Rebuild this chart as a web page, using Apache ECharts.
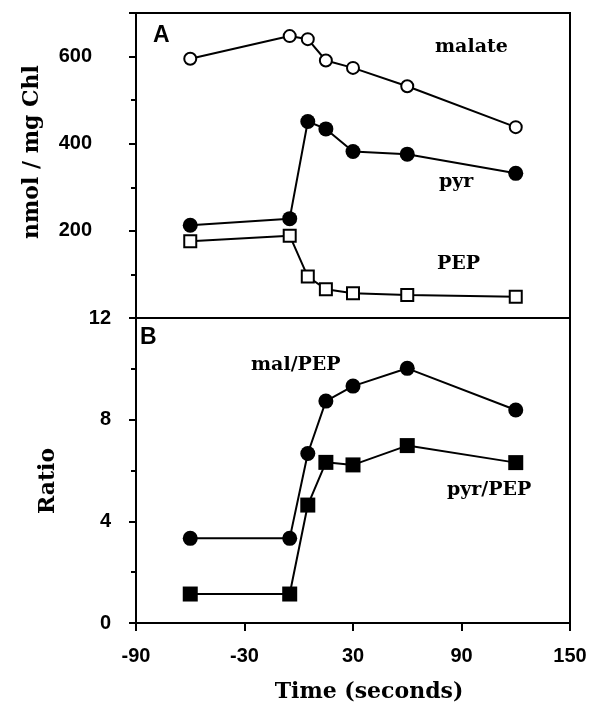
<!DOCTYPE html>
<html><head><meta charset="utf-8">
<script src="https://cdn.jsdelivr.net/npm/echarts@6/dist/echarts.min.js"></script>
<style>html,body{margin:0;padding:0;background:#fff}#c{width:591px;height:708px}</style>
</head><body><div id="c"></div>
<script>
const times = [-60, -5, 5, 15, 30, 60, 120];
const malate = [595, 647, 640, 591, 574, 532, 438];
const pyr = [213, 228, 451, 434, 382, 376, 332];
const pep = [176, 189, 95, 66, 57, 53, 49];
const malPep = [3.33, 3.33, 6.67, 8.73, 9.32, 10.02, 8.38];
const pyrPep = [1.14, 1.14, 4.64, 6.32, 6.22, 6.98, 6.31];
const yLabelsA = [200, 400, 600];
const yLabelsB = [0, 4, 8, 12];

const SERIF = 'DejaVu Serif';
const SANS = 'Liberation Sans';
const pts = ys => times.map((t, i) => [t, ys[i]]);

function mk(name, data, xi, symbol, filled) {
  return {
    name, type: 'line', xAxisIndex: xi, yAxisIndex: xi, data: pts(data),
    symbol, symbolSize: filled ? 15 : 12,
    lineStyle: { color: '#000', width: 2 },
    itemStyle: filled ? { color: '#000', borderColor: '#000', borderWidth: 0 }
                      : { color: '#fff', borderColor: '#000', borderWidth: 2 },
    emphasis: { disabled: true }, z: 3
  };
}

const chart = echarts.init(document.getElementById('c'), null, { renderer: 'canvas' });
const tickLabel = { fontFamily: SANS, fontWeight: 'bold', fontSize: 20, color: '#000' };
chart.setOption({
  animation: false,
  backgroundColor: '#fff',
  grid: [
    { left: 136, top: 13, width: 434, height: 305, show: true, borderColor: '#000', borderWidth: 2, backgroundColor: 'transparent' },
    { left: 136, top: 318, width: 434, height: 305, show: true, borderColor: '#000', borderWidth: 2, backgroundColor: 'transparent' }
  ],
  xAxis: [
    { gridIndex: 0, type: 'value', min: -90, max: 150, interval: 60, show: false },
    { gridIndex: 1, type: 'value', min: -90, max: 150, interval: 60,
      axisLine: { show: true, onZero: false, lineStyle: { color: '#000', width: 2 } },
      axisTick: { show: true, inside: false, length: 8, lineStyle: { color: '#000', width: 2 } },
      axisLabel: Object.assign({ margin: 23 }, tickLabel),
      splitLine: { show: false } }
  ],
  yAxis: [
    { gridIndex: 0, type: 'value', min: 0, max: 700, interval: 200,
      axisLine: { show: true, onZero: false, lineStyle: { color: '#000', width: 2 } },
      axisTick: { show: true, length: 7, lineStyle: { color: '#000', width: 2 } },
      minorTick: { show: true, splitNumber: 2, length: 5, lineStyle: { color: '#000', width: 2 } },
      axisLabel: Object.assign({ margin: 44, formatter: v => yLabelsA.includes(v) ? String(v) : '' }, tickLabel),
      splitLine: { show: false } },
    { gridIndex: 1, type: 'value', min: 0, max: 12, interval: 4,
      axisLine: { show: true, onZero: false, lineStyle: { color: '#000', width: 2 } },
      axisTick: { show: true, length: 7, lineStyle: { color: '#000', width: 2 } },
      minorTick: { show: true, splitNumber: 2, length: 5, lineStyle: { color: '#000', width: 2 } },
      axisLabel: Object.assign({ margin: 25, formatter: v => yLabelsB.includes(v) ? String(v) : '' }, tickLabel),
      splitLine: { show: false } }
  ],
  series: [
    mk('malate', malate, 0, 'circle', false),
    mk('pyr', pyr, 0, 'circle', true),
    mk('PEP', pep, 0, 'rect', false),
    mk('mal/PEP', malPep, 1, 'circle', true),
    mk('pyr/PEP', pyrPep, 1, 'rect', true)
  ],
  graphic: [
    { type: 'text', left: 153, top: 24, style: { text: 'A', font: 'bold 23px ' + SANS, fill: '#000' } },
    { type: 'text', left: 140, top: 326, style: { text: 'B', font: 'bold 23px ' + SANS, fill: '#000' } },
    { type: 'text', left: 435, top: 38, style: { text: 'malate', font: 'bold 19px ' + SERIF, fill: '#000' } },
    { type: 'text', left: 439, top: 173, style: { text: 'pyr', font: 'bold 19px ' + SERIF, fill: '#000' } },
    { type: 'text', left: 437, top: 255, style: { text: 'PEP', font: 'bold 19px ' + SERIF, fill: '#000' } },
    { type: 'text', left: 251, top: 356, style: { text: 'mal/PEP', font: 'bold 19px ' + SERIF, fill: '#000' } },
    { type: 'text', left: 447, top: 481, style: { text: 'pyr/PEP', font: 'bold 19px ' + SERIF, fill: '#000' } },
    { type: 'text', x: 32, y: 152, rotation: Math.PI / 2,
      style: { text: 'nmol / mg Chl', font: 'bold 22px ' + SERIF, fill: '#000', align: 'center', verticalAlign: 'middle' } },
    { type: 'text', x: 48, y: 481, rotation: Math.PI / 2,
      style: { text: 'Ratio', font: 'bold 22px ' + SERIF, fill: '#000', align: 'center', verticalAlign: 'middle' } },
    { type: 'text', x: 369, y: 692,
      style: { text: 'Time (seconds)', font: 'bold 22px ' + SERIF, fill: '#000', align: 'center', verticalAlign: 'middle' } }
  ]
});
</script></body></html>
